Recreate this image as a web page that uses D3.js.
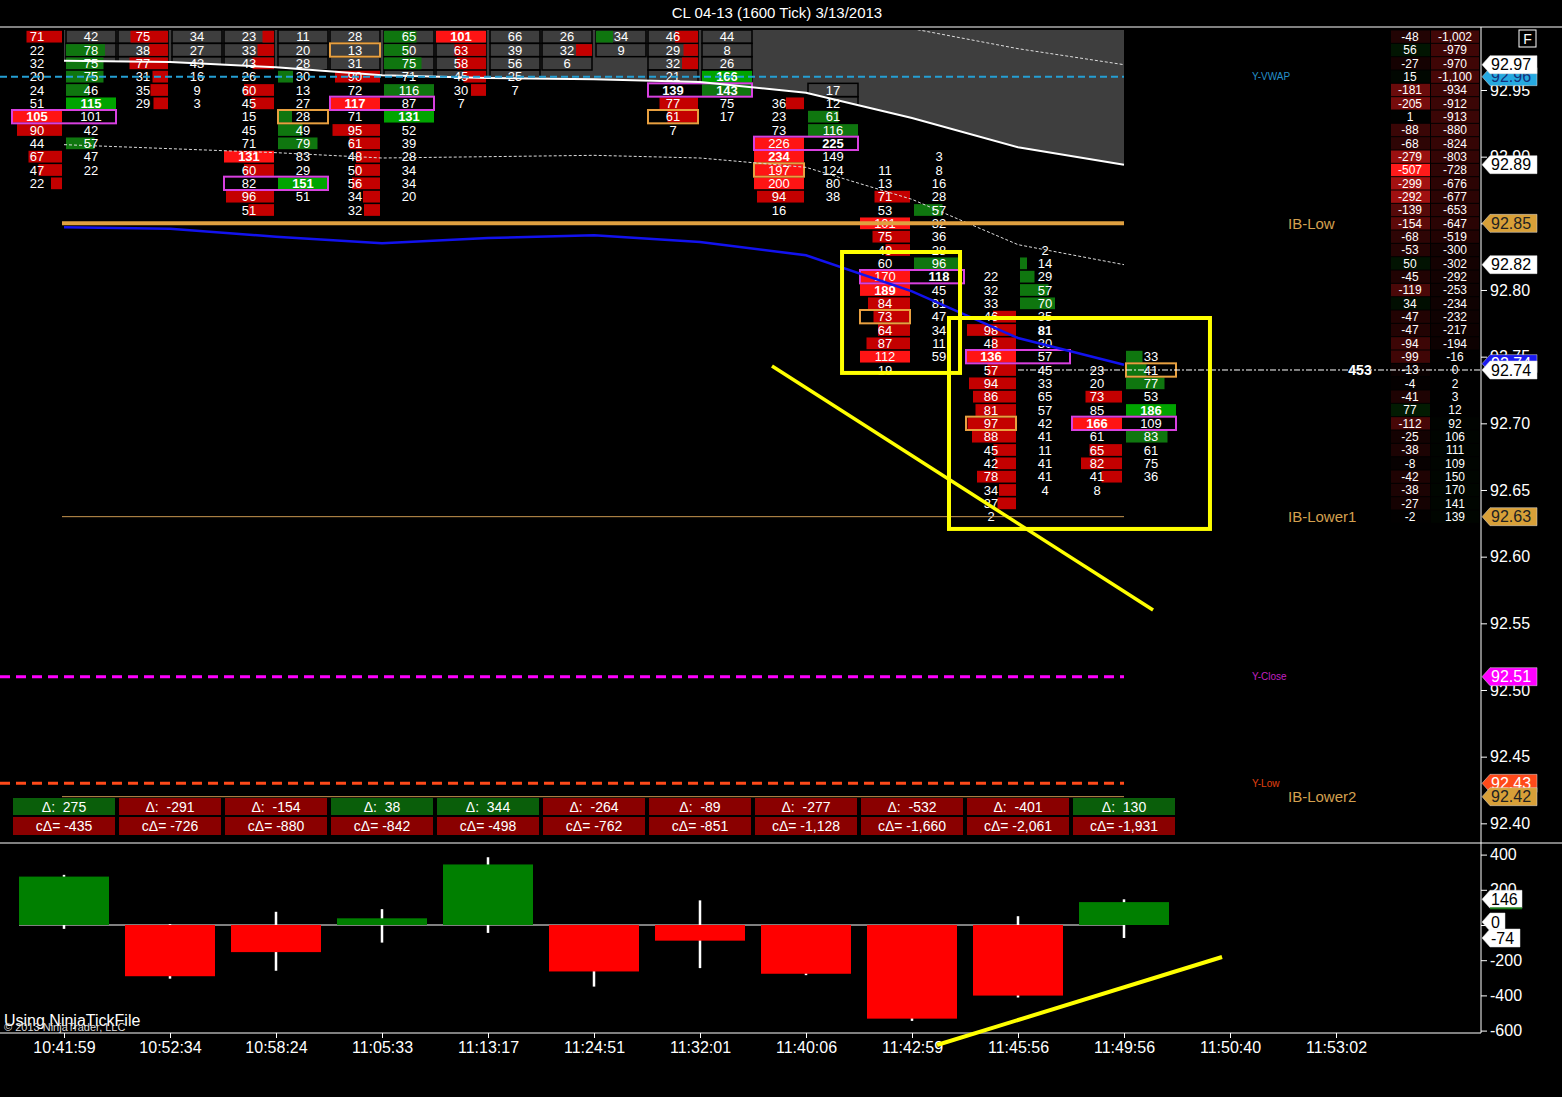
<!DOCTYPE html>
<html><head><meta charset="utf-8">
<script src="https://cdn.jsdelivr.net/npm/d3@7"></script>
<style>
html,body{margin:0;padding:0;background:#000;overflow:hidden}
svg{display:block}
text{font-family:"Liberation Sans",Arial,sans-serif}
</style></head><body>
<script>
// ---------------- DATA ----------------
const chartTitle = "CL 04-13 (1600 Tick)  3/13/2013";
const timeLabels = ["10:41:59","10:52:34","10:58:24","11:05:33","11:13:17","11:24:51","11:32:01","11:40:06","11:42:59","11:45:56","11:49:56","11:50:40","11:53:02"];
const barDelta    = [275,-291,-154,38,344,-264,-89,-277,-532,-401,130];
const barCumDelta = [-435,-726,-880,-842,-498,-762,-851,-1128,-1660,-2061,-1931];
const deltaHigh   = [285,5,75,90,385,0,140,0,0,50,146];
const deltaLow    = [-22,-305,-260,-100,-45,-350,-245,-285,-545,-412,-74];

// footprint (bid x ask volume per price)
const bidTop = [92.99,92.99,92.99,92.99,92.99,92.99,92.99,92.94,92.89,92.81,92.74];
const askTop = [92.99,92.99,92.99,92.99,92.99,92.99,92.99,92.95,92.90,92.83,92.75];
const fpBid = [
  [71,22,32,20,24,51,105,90,44,67,47,22],
  [75,38,77,31,35,29],
  [23,33,43,26,60,45,15,45,71,131,60,82,96,51],
  [28,13,31,90,72,117,71,95,61,48,50,56,34,32],
  [101,63,58,45,30,7],
  [26,32,6],
  [46,29,32,21,139,77,61,7],
  [36,23,73,226,234,197,200,94,16],
  [11,13,71,53,101,75,49,60,170,189,84,73,64,87,112,19],
  [22,32,33,46,98,48,136,57,94,86,81,97,88,45,42,78,34,37,2],
  [23,20,73,85,166,61,65,82,41,8]
];
const fpAsk = [
  [42,78,75,75,46,115,101,42,57,47,22],
  [34,27,43,16,9,3],
  [11,20,28,30,13,27,28,49,79,83,29,151,51],
  [65,50,75,71,116,87,131,52,39,28,34,34,20],
  [66,39,56,25,7],
  [34,9],
  [44,8,26,166,143,75,17],
  [17,12,61,116,225,149,124,80,38],
  [3,8,16,28,57,32,36,28,96,118,45,81,47,34,11,59],
  [2,14,29,57,70,35,81,30,57,45,33,65,57,42,41,11,41,41,4],
  [33,41,77,53,186,109,83,61,75,36]
];
// imbalance flags: "." none, b = imbalance, h = strong, H = strong+max, B = imbalance+max, w = max only
const bidFlags = ["b.....Hb.bbb","bbbbbb","bbb.bb...Hb.bb","...b.H.bbbbbbb","Hbbbb.",".b.","bbb.wbb.","b..hHhhb.","..b.hbb.hHbbbbh.","...bbbHbbbbbbbbbbb.","..b.H.bbb."];
const askFlags = [".bbbbH..b..","......","...b..bbb..H.","bbb.b.H......",".....","b.","...HB..","..bbw....","....b...bw......",".bbbb.w............","bbb.H.b..."];
const maxVolPrice = [92.93,null,92.88,92.94,null,null,92.95,92.91,92.81,92.75,92.70];
const unfinished = [[2,"ask",92.93],[3,"bid",92.98],[6,"bid",92.93],[7,"bid",92.89],[8,"bid",92.78],[9,"bid",92.70],[10,"ask",92.74]];

// indicator lines (per bar)
const vwapUpper2 = [93.06,93.058,93.055,93.05,93.045,93.04,93.03,93.012,92.996,92.981,92.969];
const vwapUpper1 = [92.972,92.971,92.967,92.961,92.959,92.958,92.956,92.948,92.929,92.907,92.894];
const vwapLower1 = [92.909,92.906,92.903,92.899,92.900,92.901,92.899,92.892,92.868,92.834,92.819];
const avgLine    = [92.847,92.846,92.840,92.835,92.839,92.841,92.836,92.826,92.799,92.764,92.744];
const yVwap = 92.96, yClose = 92.51, yLow = 92.43;
const ibLow = 92.85, ibLower1 = 92.63, ibLower2 = 92.42;
const lastPrice = 92.74, ticksRemaining = 453;

// delta ladder on the right
const ladderTop = 92.99;
const ladderDelta = [-48,56,-27,15,-181,-205,1,-88,-68,-279,-507,-299,-292,-139,-154,-68,-53,50,-45,-119,34,-47,-47,-94,-99,-13,-4,-41,77,-112,-25,-38,-8,-42,-38,-27,-2];
const ladderCum = [-1002,-979,-970,-1100,-934,-912,-913,-880,-824,-803,-728,-676,-677,-653,-647,-519,-300,-302,-292,-253,-234,-232,-217,-194,-16,0,2,3,12,92,106,111,109,150,170,141,139];

const priceTicks = [92.95,92.90,92.85,92.80,92.75,92.70,92.65,92.60,92.55,92.50,92.45,92.40];
const deltaTicks = [400,200,0,-200,-400,-600];

// hand-drawn annotations (bar index, price / delta)
const annRects = [[7.34,92.8285,8.453,92.7378],[8.349,92.779,10.811,92.6208]];
const annPriceLine = [[6.679,92.743],[10.274,92.56]];
const annDeltaLine = [[8.236,-682],[10.925,-182]];

// ---------------- DRAW ----------------
const W=1562,H=1097;
const svg=d3.select("body").append("svg").attr("width",W).attr("height",H).style("background","#000");
const axisX=1481, panelTop=30, panelBot=842, lowTop=845, lowBot=1033;

const x=d3.scaleLinear().domain([0,12]).range([64,1336]);
const y=d3.scaleLinear().domain([92.95,92.40]).range([90,823.333]);
const yd=d3.scaleLinear().domain([400,-600]).range([854.6,1030.6]);
const rowH=y(92.94)-y(92.95);
const barLen=d3.scaleLinear().domain([0,100]).range([0,50]).clamp(true);
const loc=d3.formatLocale({decimal:".",thousands:",",grouping:[3],currency:["$",""],minus:"-"});
const fmt=loc.format(",");
const f2=loc.format(".2f");

svg.append("defs").append("clipPath").attr("id","pc").append("rect")
  .attr("x",0).attr("y",panelTop).attr("width",axisX).attr("height",panelBot-panelTop);

// title & frame
svg.append("text").attr("x",777).attr("y",18).attr("text-anchor","middle").attr("fill","#fff")
  .style("font-size","15px").text(chartTitle);
svg.append("line").attr("x1",0).attr("x2",W).attr("y1",27).attr("y2",27).attr("stroke","#fff");
svg.append("line").attr("x1",0).attr("x2",W).attr("y1",843).attr("y2",843).attr("stroke","#fff");
svg.append("line").attr("x1",axisX).attr("x2",axisX).attr("y1",27).attr("y2",lowBot).attr("stroke","#fff");

const main=svg.append("g").attr("clip-path","url(#pc)");

// shaded band
main.append("path").datum(vwapUpper1)
  .attr("d",d3.area().x((d,i)=>x(i)).y0(panelTop).y1(d=>y(d)))
  .attr("fill","#3e3e3e");

// footprint cells
const cells=[];
fpBid.forEach((col,i)=>col.forEach((v,j)=>cells.push({i,side:"bid",p:+(bidTop[i]-j*0.01).toFixed(2),v,f:bidFlags[i][j]})));
fpAsk.forEach((col,i)=>col.forEach((v,j)=>cells.push({i,side:"ask",p:+(askTop[i]-j*0.01).toFixed(2),v,f:askFlags[i][j]})));
const cellX=d=>d.side==="bid"?x(d.i)-52:x(d.i)+2;
main.selectAll(".cellbg").data(cells).join("rect")
  .attr("x",cellX).attr("y",d=>y(d.p)-rowH/2).attr("width",50).attr("height",rowH)
  .attr("fill","none").attr("stroke","#000").attr("stroke-width",1.5);
const barColor=d=>{
  const strong=d.f==="h"||d.f==="H";
  if(d.side==="bid") return strong?"#ff1414":"#c40000";
  return strong?"#00a400":"#0f760f";
};
main.selectAll(".fpbar").data(cells.filter(d=>d.f!=="."&&d.f!=="w")).join("rect")
  .attr("x",d=>d.side==="bid"?x(d.i)-2-barLen(d.v):x(d.i)+2)
  .attr("y",d=>y(d.p)-rowH/2+0.8).attr("width",d=>barLen(d.v)).attr("height",rowH-1.6)
  .attr("fill",barColor);
main.selectAll(".fptxt").data(cells).join("text")
  .attr("x",d=>d.side==="bid"?x(d.i)-27:x(d.i)+27).attr("y",d=>y(d.p)).attr("dy","0.36em")
  .attr("text-anchor","middle").attr("fill","#fff").style("font-size","13px")
  .style("font-weight",d=>"HBw".includes(d.f)?"bold":"normal").text(d=>d.v);
main.selectAll(".maxbox").data(maxVolPrice.map((p,i)=>({p,i})).filter(d=>d.p!==null)).join("rect")
  .attr("x",d=>x(d.i)-52).attr("y",d=>y(d.p)-rowH/2).attr("width",104).attr("height",rowH)
  .attr("fill","none").attr("stroke","#d840e0").attr("stroke-width",2);
main.selectAll(".unf").data(unfinished).join("rect")
  .attr("x",d=>d[1]==="bid"?x(d[0])-52:x(d[0])+2).attr("y",d=>y(d[2])-rowH/2).attr("width",50).attr("height",rowH)
  .attr("fill","none").attr("stroke","#e8a040").attr("stroke-width",2);

// indicator lines
const lineGen=d3.line().x((d,i)=>x(i)).y(d=>y(d));
main.append("path").datum(vwapUpper2).attr("d",lineGen).attr("fill","none").attr("stroke","#ddd").attr("stroke-width",1).attr("stroke-dasharray","3,2");
main.append("path").datum(vwapLower1).attr("d",lineGen).attr("fill","none").attr("stroke","#ddd").attr("stroke-width",1).attr("stroke-dasharray","3,2");
main.append("path").datum(vwapUpper1).attr("d",lineGen).attr("fill","none").attr("stroke","#fff").attr("stroke-width",2);
main.append("path").datum(avgLine).attr("d",lineGen).attr("fill","none").attr("stroke","#1212ee").attr("stroke-width",2.5);

const hline=(p,x1,x2,color,w,dash)=>main.append("line").attr("x1",x1).attr("x2",x2).attr("y1",y(p)).attr("y2",y(p))
  .attr("stroke",color).attr("stroke-width",w).attr("stroke-dasharray",dash||null);
hline(yVwap,0,x(10),"#249fd4",2,"7,4");
hline(ibLow,x(0)-2,x(10),"#e0a040",4);
hline(ibLower1,x(0)-2,x(10),"#c89650",1);
hline(ibLower2,x(0)-2,x(10),"#c89650",1);
hline(yClose,0,x(10),"#ff00ff",3,"10,6");
hline(yLow,0,x(10),"#ff4a1a",3,"10,6");

// labels for lines
const lab=(t,xx,p,color,size)=>svg.append("text").attr("x",xx).attr("y",y(p)).attr("dy","0.35em").attr("fill",color).style("font-size",size).text(t);
lab("Y-VWAP",1252,yVwap+0.0005,"#2590c8","10px");
lab("IB-Low",1288,ibLow,"#d4a050","15px");
lab("IB-Lower1",1288,ibLower1,"#d4a050","15px");
lab("Y-Close",1252,yClose,"#c020c0","10px");
lab("Y-Low",1252,yLow-0.0002,"#e04010","10px");
lab("IB-Lower2",1288,ibLower2,"#d4a050","15px");

// delta boxes
const dbox=svg.append("g");
barDelta.forEach((v,i)=>{
  dbox.append("rect").attr("x",x(i)-51).attr("y",798).attr("width",102).attr("height",17).attr("fill",v>=0?"#0a5e0a":"#8a0000");
  dbox.append("text").attr("x",x(i)).attr("y",807).attr("dy","0.36em").attr("text-anchor","middle").attr("fill","#fff").style("font-size","14px").text("Δ:\u00a0\u00a0"+fmt(v));
  const c=barCumDelta[i];
  dbox.append("rect").attr("x",x(i)-51).attr("y",817).attr("width",102).attr("height",18).attr("fill",c>=0?"#0a5e0a":"#8a0000");
  dbox.append("text").attr("x",x(i)).attr("y",826).attr("dy","0.36em").attr("text-anchor","middle").attr("fill","#fff").style("font-size","14px").text("cΔ=\u00a0"+fmt(c));
});

// delta ladder
const ladder=svg.append("g");
const negC=d3.interpolateRgb("#000","#ff1a1a"), posC=d3.interpolateRgb("#000","#10c010");
ladderDelta.forEach((v,j)=>{
  const p=ladderTop-j*0.01;
  const t=Math.pow(Math.abs(v)/507,0.85);
  ladder.append("rect").attr("x",1391).attr("y",y(p)-rowH/2+0.5).attr("width",39).attr("height",rowH-1)
    .attr("fill",v<0?negC(t):posC(t*0.7));
  ladder.append("text").attr("x",1410).attr("y",y(p)).attr("dy","0.36em").attr("text-anchor","middle").attr("fill","#fff").style("font-size","12px").text(fmt(v));
  const c=ladderCum[j], tc=Math.abs(c)/1100*0.28;
  ladder.append("rect").attr("x",1431).attr("y",y(p)-rowH/2+0.5).attr("width",48).attr("height",rowH-1)
    .attr("fill",c<0?negC(tc):posC(tc*0.7));
  ladder.append("text").attr("x",1455).attr("y",y(p)).attr("dy","0.36em").attr("text-anchor","middle").attr("fill","#fff").style("font-size","12px").text(fmt(c));
});
svg.append("rect").attr("x",1519).attr("y",30).attr("width",17).attr("height",17).attr("fill","none").attr("stroke","#fff");
svg.append("text").attr("x",1527.5).attr("y",39).attr("dy","0.36em").attr("text-anchor","middle").attr("fill","#fff").style("font-size","14px").text("F");

// last price line
svg.append("line").attr("x1",x(9)).attr("x2",axisX).attr("y1",y(lastPrice)).attr("y2",y(lastPrice))
  .attr("stroke","#fff").attr("stroke-width",1).attr("stroke-dasharray","6,2,2,2");
svg.append("text").attr("x",1360).attr("y",y(lastPrice)).attr("dy","0.36em").attr("text-anchor","middle")
  .attr("fill","#fff").style("font-size","14px").style("font-weight","bold").text(ticksRemaining);

// price axis
const pa=svg.append("g").attr("transform",`translate(${axisX},0)`)
  .call(d3.axisRight(y).tickValues(priceTicks).tickFormat(f2).tickSize(6).tickPadding(3));
pa.select(".domain").remove();
pa.selectAll("line").attr("stroke","#fff");
pa.selectAll("text").attr("fill","#fff").style("font-size","16px").style("font-family","'Liberation Sans',Arial,sans-serif");

// badges
function badge(yy,label,fill,tcol,w,h){
  h=h||18;
  const g=svg.append("g");
  g.append("path").attr("d",`M${axisX+1},${yy}L${axisX+9},${yy-h/2}L${axisX+w},${yy-h/2}L${axisX+w},${yy+h/2}L${axisX+9},${yy+h/2}Z`)
    .attr("fill",fill).attr("stroke","#ddd").attr("stroke-width",0.5);
  g.append("text").attr("x",axisX+10).attr("y",yy).attr("dy","0.36em").attr("fill",tcol).style("font-size","16px").text(label);
  return g;
}
badge(y(yVwap),f2(yVwap),"#26a9e0","#15307a",56);
badge(y(vwapUpper2[10]),f2(vwapUpper2[10]),"#fff","#000",56);
badge(y(vwapUpper1[10]),f2(vwapUpper1[10]),"#fff","#000",56);
badge(y(ibLow),f2(ibLow),"#d8a038","#222",56);
badge(y(vwapLower1[10]),f2(vwapLower1[10]),"#fff","#000",56);
badge(y(avgLine[10])-1,f2(avgLine[10]),"#1a1af0","#fff",56);
badge(y(lastPrice),f2(lastPrice),"#fff","#000",56);
badge(y(ibLower1),f2(ibLower1),"#d8a038","#222",56);
badge(y(yClose),f2(yClose),"#ff00ff","#fff",56);
badge(y(yLow),f2(yLow),"#ff4a1a","#fff",56);
badge(y(ibLower2),f2(ibLower2),"#d8a038","#222",56);

// lower panel: delta candles
const low=svg.append("g");
low.append("line").attr("x1",x(0)-45).attr("x2",x(10)).attr("y1",yd(0)).attr("y2",yd(0)).attr("stroke","#fff");
barDelta.forEach((v,i)=>{
  low.append("line").attr("x1",x(i)).attr("x2",x(i)).attr("y1",yd(deltaHigh[i])).attr("y2",yd(deltaLow[i])).attr("stroke","#fff").attr("stroke-width",2.5);
  low.append("rect").attr("x",x(i)-45).attr("width",90).attr("y",yd(Math.max(0,v))).attr("height",Math.abs(yd(v)-yd(0)))
    .attr("fill",v>=0?"#007f00":"#ff0000");
});
const da=svg.append("g").attr("transform",`translate(${axisX},0)`)
  .call(d3.axisRight(yd).tickValues(deltaTicks).tickFormat(fmt).tickSize(6).tickPadding(3));
da.select(".domain").remove();
da.selectAll("line").attr("stroke","#fff");
da.selectAll("text").attr("fill","#fff").style("font-size","16px").style("font-family","'Liberation Sans',Arial,sans-serif");
badge(yd(deltaHigh[10]),fmt(deltaHigh[10]),"#fff","#000",41);
svg.append("line").attr("x1",axisX+9).attr("x2",axisX+41).attr("y1",yd(deltaHigh[10])+9).attr("y2",yd(deltaHigh[10])+9).attr("stroke","#1a7a1a").attr("stroke-width",2);
badge(yd(0)-3,"0","#fff","#000",24);
badge(yd(deltaLow[10]),fmt(deltaLow[10]),"#fff","#000",39);

// time axis
const ta=svg.append("g").attr("transform",`translate(0,${lowBot})`)
  .call(d3.axisBottom(x).tickValues(d3.range(timeLabels.length)).tickFormat(i=>timeLabels[i]).tickSize(5).tickPadding(4));
ta.select(".domain").remove();
ta.selectAll("line").attr("stroke","#fff");
ta.selectAll("text").attr("fill","#fff").style("font-size","16px").style("font-family","'Liberation Sans',Arial,sans-serif");
svg.append("line").attr("x1",0).attr("x2",axisX).attr("y1",lowBot).attr("y2",lowBot).attr("stroke","#fff");

svg.append("text").attr("x",4).attr("y",1026).attr("fill","#fff").style("font-size","16px").text("Using NinjaTickFile");
svg.append("text").attr("x",4).attr("y",1031).attr("fill","#ddd").style("font-size","11px").text("© 2013 NinjaTrader, LLC");

// annotations
const ann=svg.append("g");
annRects.forEach(r=>{
  ann.append("rect").attr("x",x(r[0])).attr("y",y(r[1])).attr("width",x(r[2])-x(r[0])).attr("height",y(r[3])-y(r[1]))
    .attr("fill","none").attr("stroke","#ffff00").attr("stroke-width",4);
});
ann.append("line").attr("x1",x(annPriceLine[0][0])).attr("y1",y(annPriceLine[0][1])).attr("x2",x(annPriceLine[1][0])).attr("y2",y(annPriceLine[1][1]))
  .attr("stroke","#ffff00").attr("stroke-width",3.5);
ann.append("line").attr("x1",x(annDeltaLine[0][0])).attr("y1",yd(annDeltaLine[0][1])).attr("x2",x(annDeltaLine[1][0])).attr("y2",yd(annDeltaLine[1][1]))
  .attr("stroke","#ffff00").attr("stroke-width",4);
</script>
</body></html>
